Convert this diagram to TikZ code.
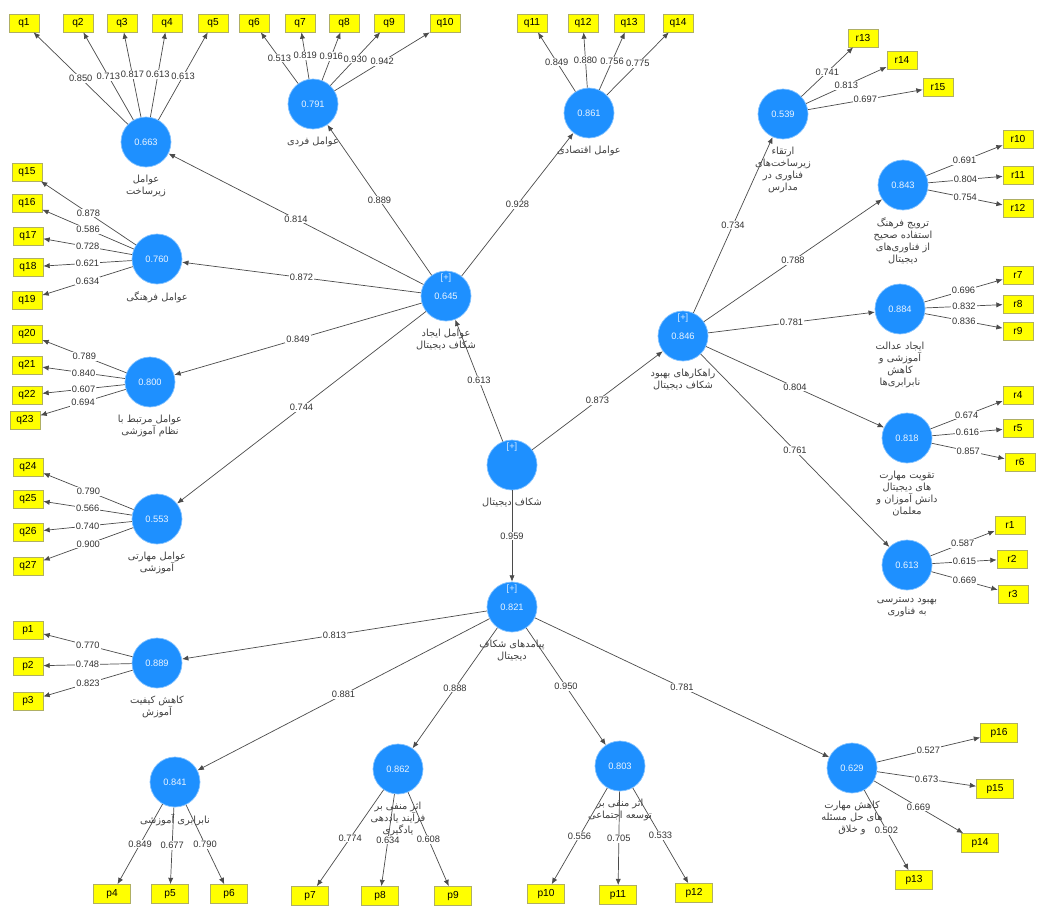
\documentclass[tikz,border=0pt]{standalone}
\usepackage{fontspec}
\setmainfont{Liberation Sans}
\newfontfamily\farsi[Script=Arabic]{DejaVu Sans}
\TeXXeTstate=1
\usetikzlibrary{arrows.meta,positioning}
\definecolor{lvblue}{RGB}{30,144,255}
\definecolor{indyellow}{RGB}{255,255,0}
\definecolor{indedge}{RGB}{175,175,100}
\definecolor{pathgray}{RGB}{75,75,75}
\newcommand{\fa}[1]{{\farsi\beginR #1\endR}}

\tikzset{
  lv/.style={circle, fill=lvblue, draw=lvblue!55!white, minimum size=1cm, inner sep=0pt,
    text=white!90!lvblue, font=\fontsize{5.3}{6.3}\selectfont},
  plus/.style={label={[text=white!80!lvblue, inner sep=0.5pt, label distance=-0.26cm,
    font=\fontsize{5.3}{6.3}\selectfont]90:[+]}},
  lvname/.style={align=center, inner sep=0.5pt, text=black!75, font=\fontsize{5.6}{6.9}\selectfont},
  ind/.style={rectangle, fill=indyellow, draw=indedge, minimum width=0.6cm, minimum height=0.36cm,
    inner sep=0pt, font=\fontsize{5.8}{6.8}\selectfont},
  indw/.style={ind, minimum width=0.74cm, minimum height=0.38cm},
  load/.style={draw=pathgray, line width=0.4pt, -{Latex[length=3.6pt,width=3pt]}},
  coef/.style={fill=white, inner sep=0.6pt, text=black!80, font=\fontsize{5.3}{6.3}\selectfont},
}

\begin{document}
\begin{tikzpicture}[x=0.02cm, y=-0.02cm]
  \useasboundingbox (0,0) rectangle (1037,906);

  % constructs
  \node[lv] (zir) at (146,142) {0.663};
  \node[lv] (fard) at (313,104) {0.791};
  \node[lv] (eght) at (589,113) {0.861};
  \node[lv] (farh) at (157,259) {0.760};
  \node[lv] (nezam) at (150,382) {0.800};
  \node[lv] (mahar) at (157,519) {0.553};
  \node[lv, plus] (ijad) at (446,296) {0.645};
  \node[lv, plus] (shekaf) at (512,465) {};
  \node[lv, plus] (rahk) at (683,336) {0.846};
  \node[lv] (irt) at (783,114) {0.539};
  \node[lv] (tarv) at (903,185) {0.843};
  \node[lv] (edal) at (900,309) {0.884};
  \node[lv] (taqv) at (907,438) {0.818};
  \node[lv] (dast) at (907,565) {0.613};
  \node[lv, plus] (payam) at (512,607) {0.821};
  \node[lv] (keyf) at (157,663) {0.889};
  \node[lv] (nabr) at (175,782) {0.841};
  \node[lv] (yad) at (398,769) {0.862};
  \node[lv] (ejt) at (620,766) {0.803};
  \node[lv] (khal) at (852,768) {0.629};

  % construct names
  \node[lvname, below=0.12cm of zir] (zir-t) {\fa{عوامل}\\\fa{زیرساخت}};
  \node[lvname, below=0.12cm of fard] (fard-t) {\fa{عوامل فردی}};
  \node[lvname, below=0.12cm of eght] (eght-t) {\fa{عوامل اقتصادی}};
  \node[lvname, below=0.12cm of farh] (farh-t) {\fa{عوامل فرهنگی}};
  \node[lvname, below=0.12cm of nezam] (nezam-t) {\fa{عوامل مرتبط با}\\\fa{نظام آموزشی}};
  \node[lvname, below=0.12cm of mahar] (mahar-t) {\fa{عوامل مهارتی}\\\fa{آموزشی}};
  \node[lvname, below=0.12cm of ijad] (ijad-t) {\fa{عوامل ایجاد}\\\fa{شکاف دیجیتال}};
  \node[lvname, below=0.12cm of shekaf] (shekaf-t) {\fa{شکاف دیجیتال}};
  \node[lvname, below=0.12cm of rahk] (rahk-t) {\fa{راهکارهای بهبود}\\\fa{شکاف دیجیتال}};
  \node[lvname, below=0.12cm of irt] (irt-t) {\fa{ارتقاء}\\\fa{زیرساخت‌های}\\\fa{فناوری در}\\\fa{مدارس}};
  \node[lvname, below=0.12cm of tarv] (tarv-t) {\fa{ترویج فرهنگ}\\\fa{استفاده صحیح}\\\fa{از فناوری‌های}\\\fa{دیجیتال}};
  \node[lvname, below=0.12cm of edal] (edal-t) {\fa{ایجاد عدالت}\\\fa{آموزشی و}\\\fa{کاهش}\\\fa{نابرابری‌ها}};
  \node[lvname, below=0.12cm of taqv] (taqv-t) {\fa{تقویت مهارت}\\\fa{های دیجیتال}\\\fa{دانش آموزان و}\\\fa{معلمان}};
  \node[lvname, below=0.12cm of dast] (dast-t) {\fa{بهبود دسترسی}\\\fa{به فناوری}};
  \node[lvname, below=0.12cm of payam] (payam-t) {\fa{پیامدهای شکاف}\\\fa{دیجیتال}};
  \node[lvname, below=0.12cm of keyf] (keyf-t) {\fa{کاهش کیفیت}\\\fa{آموزش}};
  \node[lvname, below=0.12cm of nabr] (nabr-t) {\fa{نابرابری آموزشی}};
  \node[lvname, below=0.12cm of yad] (yad-t) {\fa{اثر منفی بر}\\\fa{فرآیند یاددهی}\\\fa{یادگیری}};
  \node[lvname, below=0.12cm of ejt] (ejt-t) {\fa{اثر منفی بر}\\\fa{توسعه اجتماعی}};
  \node[lvname, below=0.12cm of khal] (khal-t) {\fa{کاهش مهارت}\\\fa{های حل مسئله}\\\fa{و خلاق}};

  % indicators, top row
  \node[ind] (q1) at (24,23) {q1};
  \node[ind] (q2) at (78,23) {q2};
  \node[ind] (q3) at (122,23) {q3};
  \node[ind] (q4) at (167,23) {q4};
  \node[ind] (q5) at (213,23) {q5};
  \node[ind] (q6) at (254,23) {q6};
  \node[ind] (q7) at (300,23) {q7};
  \node[ind] (q8) at (344,23) {q8};
  \node[ind] (q9) at (389,23) {q9};
  \node[ind] (q10) at (445,23) {q10};
  \node[ind] (q11) at (532,23) {q11};
  \node[ind] (q12) at (583,23) {q12};
  \node[ind] (q13) at (629,23) {q13};
  \node[ind] (q14) at (678,23) {q14};
  % indicators, left column
  \node[ind] (q15) at (27,172) {q15};
  \node[ind] (q16) at (27,203) {q16};
  \node[ind] (q17) at (28,236) {q17};
  \node[ind] (q18) at (28,267) {q18};
  \node[ind] (q19) at (27,300) {q19};
  \node[ind] (q20) at (27,334) {q20};
  \node[ind] (q21) at (27,365) {q21};
  \node[ind] (q22) at (27,395) {q22};
  \node[ind] (q23) at (25,420) {q23};
  \node[ind] (q24) at (28,467) {q24};
  \node[ind] (q25) at (28,499) {q25};
  \node[ind] (q26) at (28,532) {q26};
  \node[ind] (q27) at (28,566) {q27};
  \node[ind] (p1) at (28,630) {p1};
  \node[ind] (p2) at (28,666) {p2};
  \node[ind] (p3) at (28,701) {p3};
  % indicators, right column
  \node[ind] (r13) at (863,38) {r13};
  \node[ind] (r14) at (902,60) {r14};
  \node[ind] (r15) at (938,87) {r15};
  \node[ind] (r10) at (1018,139) {r10};
  \node[ind] (r11) at (1018,175) {r11};
  \node[ind] (r12) at (1018,208) {r12};
  \node[ind] (r7) at (1018,275) {r7};
  \node[ind] (r8) at (1018,304) {r8};
  \node[ind] (r9) at (1018,331) {r9};
  \node[ind] (r4) at (1018,395) {r4};
  \node[ind] (r5) at (1018,428) {r5};
  \node[ind] (r6) at (1020,462) {r6};
  \node[ind] (r1) at (1010,525) {r1};
  \node[ind] (r2) at (1012,559) {r2};
  \node[ind] (r3) at (1013,594) {r3};
  % indicators, bottom row
  \node[indw] (p4) at (112,894) {p4};
  \node[indw] (p5) at (170,894) {p5};
  \node[indw] (p6) at (229,894) {p6};
  \node[indw] (p7) at (310,896) {p7};
  \node[indw] (p8) at (380,896) {p8};
  \node[indw] (p9) at (453,896) {p9};
  \node[indw] (p10) at (546,894) {p10};
  \node[indw] (p11) at (618,895) {p11};
  \node[indw] (p12) at (694,893) {p12};
  \node[indw] (p13) at (914,880) {p13};
  \node[indw] (p14) at (980,843) {p14};
  \node[indw] (p15) at (995,789) {p15};
  \node[indw] (p16) at (999,733) {p16};

  % paths between constructs
  \draw[load] (shekaf) -- node[coef]{0.613} (ijad);
  \draw[load] (shekaf) -- node[coef]{0.873} (rahk);
  \draw[load] (shekaf) -- node[coef]{0.959} (payam);
  \draw[load] (ijad) -- node[coef]{0.814} (zir);
  \draw[load] (ijad) -- node[coef]{0.889} (fard);
  \draw[load] (ijad) -- node[coef]{0.928} (eght);
  \draw[load] (ijad) -- node[coef]{0.872} (farh);
  \draw[load] (ijad) -- node[coef]{0.849} (nezam);
  \draw[load] (ijad) -- node[coef]{0.744} (mahar);
  \draw[load] (rahk) -- node[coef]{0.734} (irt);
  \draw[load] (rahk) -- node[coef]{0.788} (tarv);
  \draw[load] (rahk) -- node[coef]{0.781} (edal);
  \draw[load] (rahk) -- node[coef]{0.804} (taqv);
  \draw[load] (rahk) -- node[coef]{0.761} (dast);
  \draw[load] (payam) -- node[coef]{0.813} (keyf);
  \draw[load] (payam) -- node[coef]{0.881} (nabr);
  \draw[load] (payam) -- node[coef]{0.888} (yad);
  \draw[load] (payam) -- node[coef]{0.950} (ejt);
  \draw[load] (payam) -- node[coef]{0.781} (khal);

  % outer loadings
  \draw[load] (zir) -- node[coef]{0.850} (q1);
  \draw[load] (zir) -- node[coef]{0.713} (q2);
  \draw[load] (zir) -- node[coef]{0.817} (q3);
  \draw[load] (zir) -- node[coef]{0.613} (q4);
  \draw[load] (zir) -- node[coef]{0.613} (q5);
  \draw[load] (fard) -- node[coef]{0.513} (q6);
  \draw[load] (fard) -- node[coef]{0.819} (q7);
  \draw[load] (fard) -- node[coef]{0.916} (q8);
  \draw[load] (fard) -- node[coef]{0.930} (q9);
  \draw[load] (fard) -- node[coef]{0.942} (q10);
  \draw[load] (eght) -- node[coef]{0.849} (q11);
  \draw[load] (eght) -- node[coef]{0.880} (q12);
  \draw[load] (eght) -- node[coef]{0.756} (q13);
  \draw[load] (eght) -- node[coef]{0.775} (q14);
  \draw[load] (farh) -- node[coef]{0.878} (q15);
  \draw[load] (farh) -- node[coef]{0.586} (q16);
  \draw[load] (farh) -- node[coef]{0.728} (q17);
  \draw[load] (farh) -- node[coef]{0.621} (q18);
  \draw[load] (farh) -- node[coef]{0.634} (q19);
  \draw[load] (nezam) -- node[coef]{0.789} (q20);
  \draw[load] (nezam) -- node[coef]{0.840} (q21);
  \draw[load] (nezam) -- node[coef]{0.607} (q22);
  \draw[load] (nezam) -- node[coef]{0.694} (q23);
  \draw[load] (mahar) -- node[coef]{0.790} (q24);
  \draw[load] (mahar) -- node[coef]{0.566} (q25);
  \draw[load] (mahar) -- node[coef]{0.740} (q26);
  \draw[load] (mahar) -- node[coef]{0.900} (q27);
  \draw[load] (keyf) -- node[coef]{0.770} (p1);
  \draw[load] (keyf) -- node[coef]{0.748} (p2);
  \draw[load] (keyf) -- node[coef]{0.823} (p3);
  \draw[load] (nabr) -- node[coef]{0.849} (p4);
  \draw[load] (nabr) -- node[coef]{0.677} (p5);
  \draw[load] (nabr) -- node[coef]{0.790} (p6);
  \draw[load] (yad) -- node[coef]{0.774} (p7);
  \draw[load] (yad) -- node[coef]{0.634} (p8);
  \draw[load] (yad) -- node[coef]{0.608} (p9);
  \draw[load] (ejt) -- node[coef]{0.556} (p10);
  \draw[load] (ejt) -- node[coef]{0.705} (p11);
  \draw[load] (ejt) -- node[coef]{0.533} (p12);
  \draw[load] (khal) -- node[coef]{0.502} (p13);
  \draw[load] (khal) -- node[coef]{0.669} (p14);
  \draw[load] (khal) -- node[coef]{0.673} (p15);
  \draw[load] (khal) -- node[coef]{0.527} (p16);
  \draw[load] (irt) -- node[coef]{0.741} (r13);
  \draw[load] (irt) -- node[coef]{0.813} (r14);
  \draw[load] (irt) -- node[coef]{0.697} (r15);
  \draw[load] (tarv) -- node[coef]{0.691} (r10);
  \draw[load] (tarv) -- node[coef]{0.804} (r11);
  \draw[load] (tarv) -- node[coef]{0.754} (r12);
  \draw[load] (edal) -- node[coef]{0.696} (r7);
  \draw[load] (edal) -- node[coef]{0.832} (r8);
  \draw[load] (edal) -- node[coef]{0.836} (r9);
  \draw[load] (taqv) -- node[coef]{0.674} (r4);
  \draw[load] (taqv) -- node[coef]{0.616} (r5);
  \draw[load] (taqv) -- node[coef]{0.857} (r6);
  \draw[load] (dast) -- node[coef]{0.587} (r1);
  \draw[load] (dast) -- node[coef]{0.615} (r2);
  \draw[load] (dast) -- node[coef]{0.669} (r3);
\end{tikzpicture}
\end{document}
